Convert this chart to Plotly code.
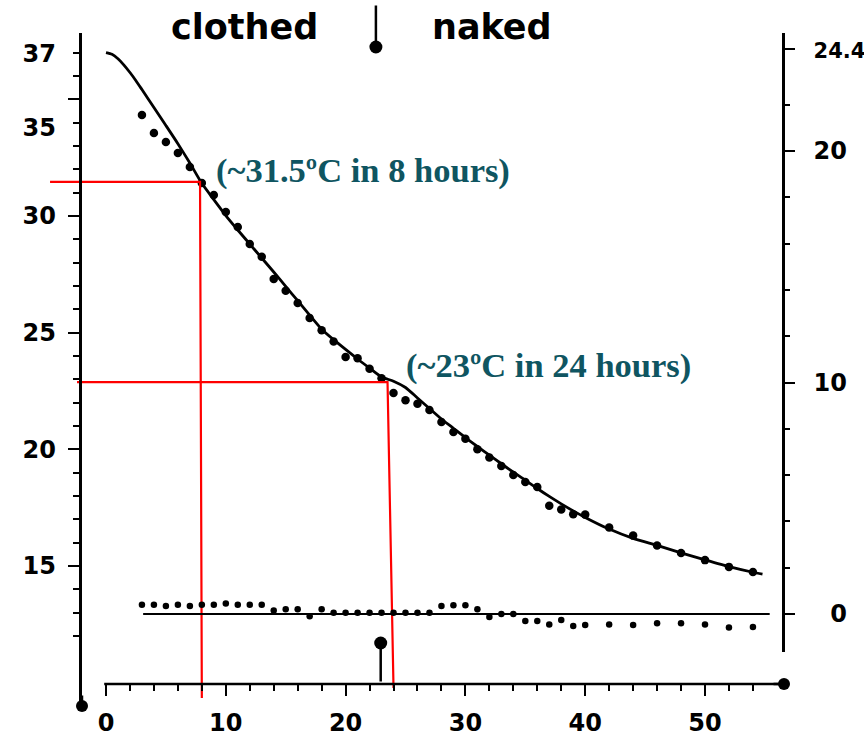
import plotly.graph_objects as go

# ---------------- data ----------------
# fitted cooling curve (rectal temperature, deg C) vs hours
curve_hours = [0, 0.5, 1, 1.5, 2, 2.5, 3, 4, 5, 6, 7, 8, 9, 10, 11, 12, 13, 14, 15, 16,
               17, 18, 19, 20, 21, 22, 23, 24, 25, 26, 27, 28, 29, 30, 31, 32, 33, 34,
               35, 36, 37, 38, 39, 40, 42, 44, 46, 48, 50, 52, 54, 54.8]
curve_temp = [37.0, 36.93, 36.74, 36.47, 36.15, 35.8, 35.42, 34.65, 33.88, 33.1, 32.27,
              31.4, 30.7, 30.02, 29.4, 28.8, 28.2, 27.6, 26.98, 26.37, 25.75, 25.15,
              24.7, 24.28, 23.87, 23.48, 23.1, 22.92, 22.65, 22.2, 21.75, 21.3, 20.9,
              20.5, 20.12, 19.75, 19.38, 19.02, 18.68, 18.32, 17.98, 17.66, 17.36,
              17.08, 16.58, 16.18, 15.88, 15.56, 15.26, 14.97, 14.73, 14.65]

# measured temperatures (dots)
meas_hours = [3, 4, 5, 6, 7, 8, 9, 10, 11, 12, 13, 14, 15, 16, 17, 18, 19, 20, 21, 22,
              23, 24, 25, 26, 27, 28, 29, 30, 31, 32, 33, 34, 35, 36, 37, 38, 39, 40,
              42, 44, 46, 48, 50, 52, 54]
meas_temp = [34.33, 33.56, 33.17, 32.7, 32.1, 31.41, 30.9, 30.17, 29.53, 28.8, 28.25,
             27.3, 26.8, 26.27, 25.63, 25.1, 24.62, 23.96, 23.9, 23.45, 23.05, 22.41,
             22.1, 21.95, 21.68, 21.17, 20.74, 20.45, 20.0, 19.65, 19.28, 18.9, 18.6,
             18.38, 17.58, 17.42, 17.22, 17.2, 16.65, 16.3, 15.88, 15.56, 15.25, 14.96,
             14.74]

# deviations (right-hand scale)
dev_hours = [3, 4, 5, 6, 7, 8, 9, 10, 11, 12, 13, 14, 15, 16, 17, 18, 19, 20, 21, 22,
             23, 24, 25, 26, 27, 28, 29, 30, 31, 32, 33, 34, 35, 36, 37, 38, 39, 40,
             42, 44, 46, 48, 50, 52, 54]
dev_values = [0.4, 0.4, 0.35, 0.4, 0.35, 0.4, 0.4, 0.45, 0.4, 0.4, 0.4, 0.15, 0.2, 0.2,
              -0.1, 0.2, 0.05, 0.05, 0.05, 0.05, 0.05, 0.05, 0.05, 0.05, 0.05, 0.35,
              0.38, 0.38, 0.2, -0.13, 0.0, 0.0, -0.3, -0.3, -0.45, -0.26, -0.52, -0.48,
              -0.45, -0.48, -0.4, -0.4, -0.45, -0.58, -0.56]
dev_line_hours = [3.1, 55.4]
dev_line_values = [0, 0]

# red read-off guides: (~31.5 C in 8 hours), (~23 C in 24 hours)
guide_left_hours = [-4.67, -2.42]
guide_corner_hours = [7.85, 23.5]
guide_bottom_hours = [8.0, 24.0]
guide_temps = [31.46, 22.88]
guide_bottom_temps = [9.34, 9.77]
guide_labels = ["(~31.5ºC in 8 hours)", "(~23ºC in 24 hours)"]
guide_label_hours = [9.0, 24.85]
guide_label_temps = [31.95, 23.6]

undress_hour = 22.93   # clothed -> naked
x_ticks = [0, 10, 20, 30, 40, 50]
left_ticks = [15, 20, 25, 30, 35]
left_label_pos = [15, 20, 25, 30, 33.77, 36.95]
left_label_text = ["15", "20", "25", "30", "35", "37"]
right_ticks = [0, 10, 20, 24.4]
right_tick_text = ["<span style='color:rgba(0,0,0,0)'>0</span>0", "10", "20",
                   "<span style='font-size:21px'>24.4</span>"]

# ---------------- layout geometry ----------------
W, H = 864, 736
ML, MR, MT, MB = 40, 64, 33, 26
PW, PH = W - ML - MR, H - MT - MB


def px_x(px):
    return (px - ML) / PW


def px_y(py):
    return (H - MB - py) / PH


def hour_at(px):
    return (px - 106) / 11.98


def temp_at(py):
    return 30 + (216 - py) / 23.33


def dev_at(py):
    return (614 - py) / 23.15


TICKFONT = dict(family="DejaVu Sans", size=24, color="black", weight="bold")
RED = "#ff0000"
TEAL = "#0f5561"

fig = go.Figure()

fig.add_trace(go.Scatter(x=curve_hours, y=curve_temp, mode="lines",
                         line=dict(color="black", width=2.8, shape="spline",
                                   smoothing=0.6),
                         xaxis="x", yaxis="y", hoverinfo="skip"))
fig.add_trace(go.Scatter(x=meas_hours, y=meas_temp, mode="markers",
                         marker=dict(color="black", size=8.5), xaxis="x", yaxis="y",
                         hoverinfo="skip"))
fig.add_trace(go.Scatter(x=dev_line_hours, y=dev_line_values, mode="lines",
                         line=dict(color="black", width=2.2), xaxis="x", yaxis="y2",
                         hoverinfo="skip"))
fig.add_trace(go.Scatter(x=dev_hours, y=dev_values, mode="markers",
                         marker=dict(color="black", size=6.5), xaxis="x", yaxis="y2",
                         hoverinfo="skip"))

for i in range(len(guide_temps)):
    fig.add_trace(go.Scatter(
        x=[guide_left_hours[i], guide_corner_hours[i], guide_bottom_hours[i]],
        y=[guide_temps[i], guide_temps[i], guide_bottom_temps[i]],
        mode="lines", line=dict(color=RED, width=2.2), xaxis="x", yaxis="y3",
        hoverinfo="skip"))

annotations = []
for i in range(len(guide_labels)):
    annotations.append(dict(
        x=guide_label_hours[i], y=guide_label_temps[i], xref="x", yref="y",
        text=guide_labels[i], showarrow=False, xanchor="left", yanchor="middle",
        font=dict(family="Liberation Serif", size=34.5, color=TEAL, weight="bold")))

annotations += [
    dict(x=px_x(244), y=px_y(27), xref="paper", yref="paper", text="clothed",
         showarrow=False, xanchor="center", yanchor="middle",
         font=dict(family="DejaVu Sans", size=35, color="black", weight="bold")),
    dict(x=px_x(492), y=px_y(27), xref="paper", yref="paper", text="naked",
         showarrow=False, xanchor="center", yanchor="middle",
         font=dict(family="DejaVu Sans", size=35, color="black", weight="bold")),
    # arrow at top marking undressing
    dict(x=undress_hour - 0.4, y=px_y(47), xref="x", yref="paper", text="",
         showarrow=True, ax=0, ay=-43, arrowhead=6, arrowsize=1.3, arrowwidth=2.5,
         arrowcolor="black"),
    # spike at bottom marking undressing
    dict(x=undress_hour, y=px_y(643), xref="x", yref="paper", text="",
         showarrow=True, ax=0, ay=40, arrowhead=6, arrowsize=1.3, arrowwidth=2.5,
         arrowcolor="black"),
    # axis end bullets
    dict(x=px_x(82), y=px_y(706), xref="paper", yref="paper", text="",
         showarrow=True, ax=0, ay=-12, arrowhead=6, arrowsize=1.2, arrowwidth=2.5,
         arrowcolor="black"),
    dict(x=px_x(784), y=px_y(684), xref="paper", yref="paper", text="",
         showarrow=True, ax=-12, ay=0, arrowhead=6, arrowsize=1.2, arrowwidth=2.5,
         arrowcolor="black"),
]

shapes = [
    # horizontal time axis line (starts at 0 h)
    dict(type="line", xref="x", yref="paper", x0=-0.15, x1=hour_at(784),
         y0=px_y(684), y1=px_y(684), line=dict(color="black", width=2.6)),
]

fig.update_layout(
    width=W, height=H,
    margin=dict(l=ML, r=MR, t=MT, b=MB, autoexpand=False),
    paper_bgcolor="white", plot_bgcolor="rgba(0,0,0,0)", showlegend=False,
    xaxis=dict(domain=[0, 1], range=[hour_at(ML), hour_at(W - MR)], anchor="free",
               position=px_y(684), showline=False, showgrid=False, zeroline=False,
               automargin=False,
               tickmode="array", tickvals=x_ticks, ticks="outside", ticklen=11,
               tickwidth=2, tickcolor="black", tickfont=TICKFONT,
               ticklabelstandoff=6,
               minor=dict(tickmode="array", tickvals=list(range(2, 56, 2)),
                          ticks="outside", ticklen=6, tickwidth=2, tickcolor="black",
                          showgrid=False)),
    yaxis=dict(domain=[0, 1], range=[temp_at(H - MB), temp_at(MT)], anchor="free",
               position=px_x(80), showline=True, linecolor="black", linewidth=2.6,
               showgrid=False, zeroline=False, automargin=False,
               tickmode="array", tickvals=left_ticks,
               ticks="outside", ticklen=11, tickwidth=2, tickcolor="black",
               showticklabels=False,
               minor=dict(tickmode="array", tickvals=list(range(12, 38)),
                          ticks="outside", ticklen=6, tickwidth=2, tickcolor="black",
                          showgrid=False)),
    yaxis3=dict(overlaying="y", range=[temp_at(H - MB), temp_at(MT)], anchor="free",
                position=px_x(80), showline=False, showgrid=False, zeroline=False,
                automargin=False,
                tickmode="array", tickvals=left_label_pos, ticktext=left_label_text,
                ticks="", tickfont=TICKFONT, ticklabelstandoff=24),
    yaxis2=dict(domain=[px_y(652), 1], range=[dev_at(652), dev_at(MT)], anchor="free",
                position=px_x(783), side="right", showline=True, linecolor="black",
                linewidth=2.6, showgrid=False, zeroline=False, automargin=False,
                tickmode="array",
                tickvals=right_ticks, ticktext=right_tick_text, ticks="outside",
                ticklen=10, tickwidth=2, tickcolor="black", tickfont=TICKFONT,
                ticklabelstandoff=14,
                minor=dict(tickmode="array", tickvals=list(range(2, 24, 2)),
                           ticks="outside", ticklen=5, tickwidth=2, tickcolor="black",
                           showgrid=False)),
    annotations=annotations, shapes=shapes,
)

fig.write_html("out.html", config={"displayModeBar": False},
               post_script="document.body.style.margin='0';")
